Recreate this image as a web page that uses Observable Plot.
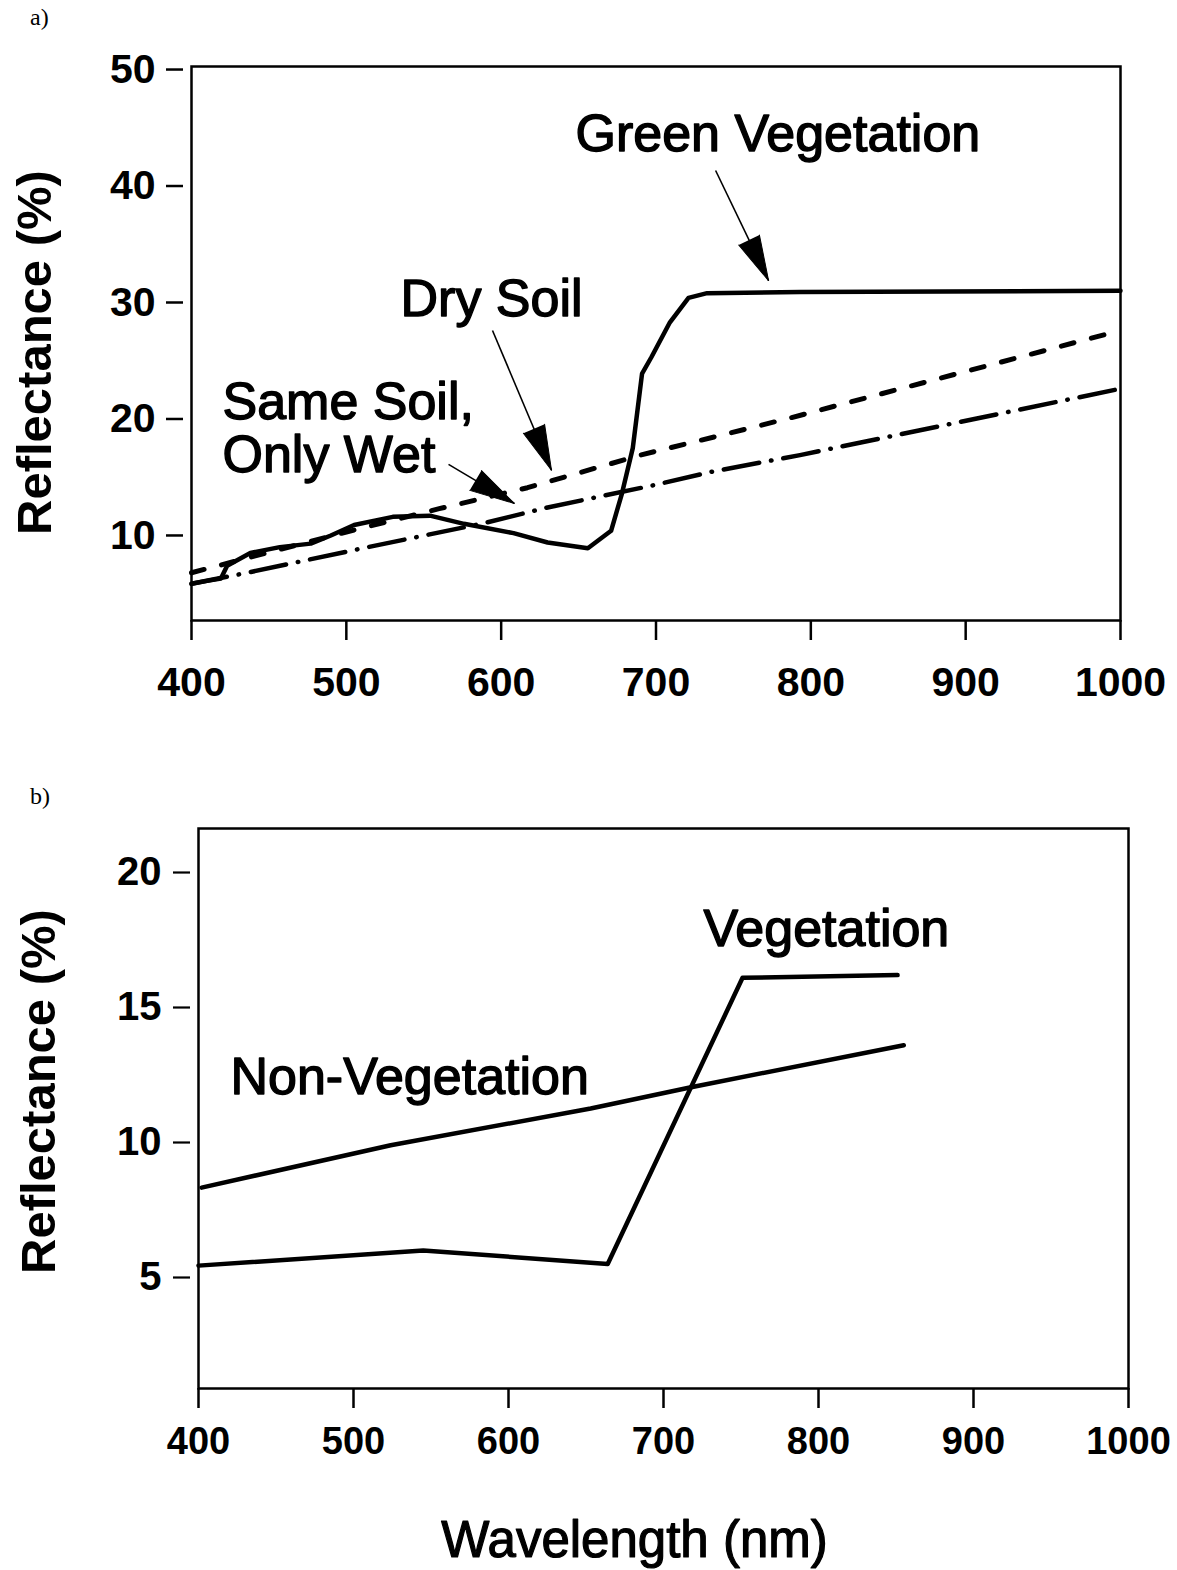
<!DOCTYPE html>
<html><head><meta charset="utf-8">
<script src="https://cdn.jsdelivr.net/npm/d3@7"></script>
<script src="https://cdn.jsdelivr.net/npm/@observablehq/plot@0.6"></script>
<style>
body{margin:0;background:#fff;}
#page{position:relative;width:1177px;height:1570px;overflow:hidden;background:#fff;}
.panel{position:absolute;left:0;}
.tag{position:absolute;font-family:"Liberation Serif","DejaVu Serif",serif;font-size:24px;color:#000;}
</style></head><body>
<div id="page">
<div id="pa" class="panel" style="top:0px"></div>
<div id="pb" class="panel" style="top:780px"></div>
<div class="tag" style="left:30px;top:4px">a)</div>
<div class="tag" style="left:30px;top:783px">b)</div>
</div>
<script>
// ---------- data: panel a ----------
const xTicks = [400, 500, 600, 700, 800, 900, 1000];
const yTicksA = [10, 20, 30, 40, 50];
const yTicksB = [5, 10, 15, 20];

const greenVegWl = [400, 410, 419, 423, 438, 457, 477, 490, 505, 530, 554, 576, 608, 630, 656, 671, 678, 685, 691, 697, 709, 721, 733, 793, 1000];
const greenVegR  = [5.85, 6.1, 6.3, 7.4, 8.5, 9.0, 9.3, 10.0, 10.9, 11.6, 11.7, 11.0, 10.2, 9.4, 8.9, 10.4, 13.6, 17.5, 23.9, 25.3, 28.3, 30.4, 30.8, 30.9, 31.0];

const drySoilWl = [400, 500, 560, 617, 690, 748, 787, 1000];
const drySoilR  = [6.8, 10.3, 12.3, 14.1, 16.9, 18.8, 20.1, 27.6];

const wetSoilWl = [400, 436, 514, 587, 630, 698, 737, 793, 1000];
const wetSoilR  = [5.85, 6.8, 9.0, 11.0, 12.4, 14.3, 15.5, 16.9, 22.6];

const labelTextA = ["Green Vegetation", "Dry Soil", "Same Soil,", "Only Wet"];
const labelXA = [648, 535, 420, 420];
const labelYA = [44.4, 30.26, 21.42, 16.87];

// arrows: start (x1,y1) -> tip (x2,y2)
const arrowX1A = [738.5, 594.4, 566.0];
const arrowY1A = [41.33, 27.6, 16.1];
const arrowX2A = [772.7, 632.5, 608.5];
const arrowY2A = [31.88, 15.6, 12.75];

// ---------- data: panel b ----------
const vegWl = [400, 545, 664, 751, 851];
const vegR  = [5.44, 6.0, 5.5, 16.1, 16.2];
const nonVegWl = [402, 524, 653, 717, 855];
const nonVegR  = [8.33, 9.9, 11.26, 12.04, 13.6];

const labelTextB = ["Vegetation", "Non-Vegetation"];
const labelXB = [725.8, 420.6];
const labelYB = [17.89, 12.41];

const FONT = '"Liberation Sans", Arial, Helvetica, sans-serif';

const zip = (xs, ys) => xs.map((x, i) => ({wl: x, r: ys[i]}));
const greenVeg = zip(greenVegWl, greenVegR);
const drySoil = zip(drySoilWl, drySoilR);
const wetSoil = zip(wetSoilWl, wetSoilR);
const veg = zip(vegWl, vegR);
const nonVeg = zip(nonVegWl, nonVegR);
const labelsA = labelTextA.map((t, i) => ({t, x: labelXA[i], y: labelYA[i]}));
const labelsB = labelTextB.map((t, i) => ({t, x: labelXB[i], y: labelYB[i]}));
const arrowsA = arrowX1A.map((x1, i) => ({x1, y1: arrowY1A[i], x2: arrowX2A[i], y2: arrowY2A[i]}));

const annot = {textAnchor: "start", lineAnchor: "middle", fontSize: 52, fill: "black", stroke: "black", strokeWidth: 1.4};
const ylab = {text: d => d, frameAnchor: "left", textAnchor: "middle", rotate: -90, fontSize: 49, fontWeight: "bold", fill: "black"};

function panelA(heads) {
  return Plot.plot({
    width: 1177, height: 740,
    marginLeft: 191, marginRight: 57, marginTop: 66, marginBottom: 120,
    x: {domain: [400, 1000]},
    y: {domain: [2.70, 50.26]},
    style: {fontFamily: FONT, background: "white", color: "black", overflow: "visible"},
    marks: [
      Plot.frame({stroke: "black", strokeWidth: 2.5}),
      Plot.axisX({ticks: xTicks, tickFormat: "d", tickSize: 20, tickPadding: 26, fontSize: 41, fontWeight: "bold", label: null, strokeWidth: 2.5}),
      Plot.axisY({ticks: yTicksA, tickSize: 17, tickPadding: 11, dx: -8, fontSize: 41, fontWeight: "bold", label: null, strokeWidth: 2.5}),
      Plot.line(drySoil, {x: "wl", y: "r", stroke: "black", strokeWidth: 5, strokeDasharray: "13,18", strokeLinecap: "round"}),
      Plot.line(wetSoil, {x: "wl", y: "r", stroke: "black", strokeWidth: 4.5, strokeDasharray: "36,12,0.5,12", strokeLinecap: "round"}),
      Plot.line(greenVeg, {x: "wl", y: "r", stroke: "black", strokeWidth: 4.5, strokeLinejoin: "round"}),
      Plot.link(arrowsA, {x1: "x1", y1: "y1", x2: "x2", y2: "y2", stroke: "black", strokeWidth: 1.6}),
      Plot.vector(heads, {x: "x2", y: "y2", rotate: "angle", length: 45, shape: "spike", r: 11.5, anchor: "end", fill: "black", stroke: "black", strokeWidth: 1}),
      Plot.text(labelsA, {x: "x", y: "y", text: "t", ...annot}),
      Plot.text(["Reflectance (%)"], {...ylab, dx: -156, dy: 9})
    ]
  });
}

function panelB() {
  return Plot.plot({
    width: 1177, height: 790,
    marginLeft: 198, marginRight: 49, marginTop: 48, marginBottom: 182,
    x: {domain: [400, 1000]},
    y: {domain: [0.889, 21.63]},
    style: {fontFamily: FONT, background: "white", color: "black", overflow: "visible"},
    marks: [
      Plot.frame({stroke: "black", strokeWidth: 2.5}),
      Plot.axisX({ticks: xTicks, tickFormat: "d", tickSize: 20, tickPadding: 19, fontSize: 38, fontWeight: "bold", label: null, strokeWidth: 2.5}),
      Plot.axisY({ticks: yTicksB, tickSize: 17, tickPadding: 12, dx: -8, fontSize: 40, fontWeight: "bold", label: null, strokeWidth: 2.2}),
      Plot.line(nonVeg, {x: "wl", y: "r", stroke: "black", strokeWidth: 4.5, strokeLinecap: "round"}),
      Plot.line(veg, {x: "wl", y: "r", stroke: "black", strokeWidth: 4.5, strokeLinejoin: "round"}),
      Plot.text(labelsB, {x: "x", y: "y", text: "t", ...annot}),
      Plot.text(["Reflectance (%)"], {...ylab, dx: -159, dy: -17}),
      Plot.text(["Wavelength (nm)"], {text: d => d, frameAnchor: "bottom", textAnchor: "middle", dx: -29, dy: 152, lineAnchor: "middle", fontSize: 51, fill: "black", stroke: "black", strokeWidth: 1.2})
    ]
  });
}

// first pass to get scales for arrowhead orientation
const tmp = panelA([]);
const sx = tmp.scale("x"), sy = tmp.scale("y");
const heads = arrowsA.map(a => {
  const dx = sx.apply(a.x2) - sx.apply(a.x1);
  const dy = sy.apply(a.y2) - sy.apply(a.y1);
  return {...a, angle: Math.atan2(dx, -dy) * 180 / Math.PI};
});
document.getElementById("pa").appendChild(panelA(heads));
document.getElementById("pb").appendChild(panelB());
</script>
</body></html>
